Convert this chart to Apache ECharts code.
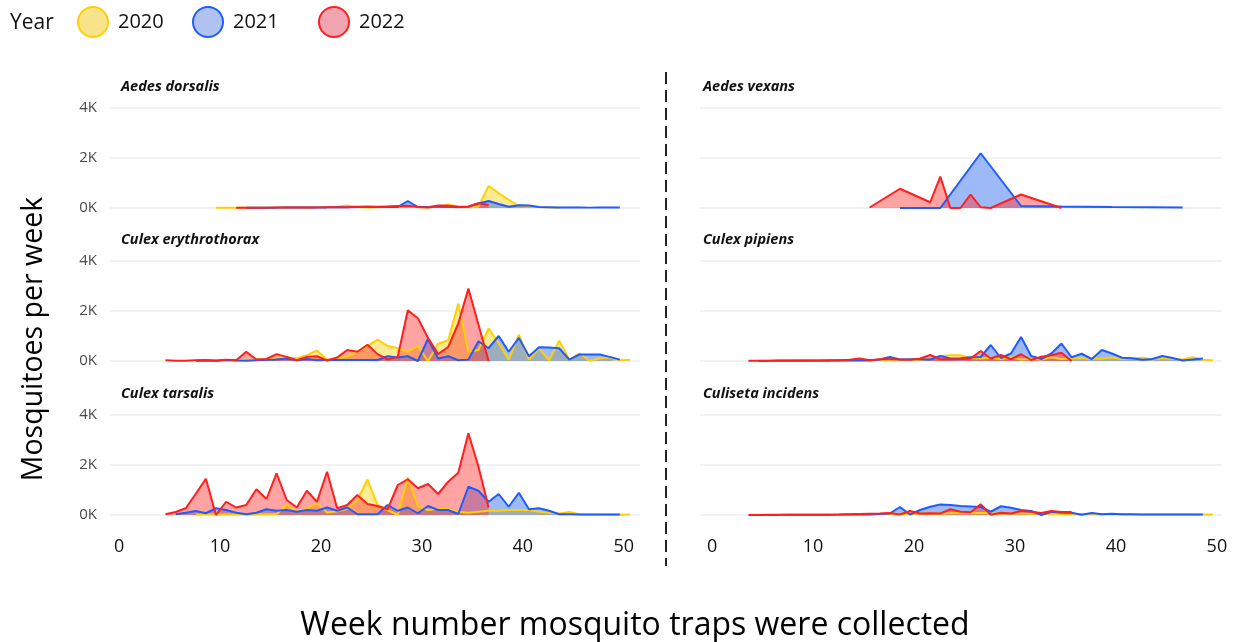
<!DOCTYPE html>
<html>
<head>
<meta charset="utf-8">
<script src="https://cdn.jsdelivr.net/npm/echarts@6/dist/echarts.min.js"></script>
<style>
  html, body { margin: 0; padding: 0; background: #fff; }
  #chart { width: 1242px; height: 642px; }
</style>
</head>
<body>
<div id="chart"></div>
<script>
// Weekly mosquito counts per species and year.
// Each array starts at the week given by its matching *Start constant;
// null marks a week without a collection (the line is joined across it).

const years = ['2020', '2021', '2022'];
const species = ['Aedes dorsalis', 'Culex erythrothorax', 'Culex tarsalis',
                 'Aedes vexans', 'Culex pipiens', 'Culiseta incidens'];
const weekTicks = [0, 10, 20, 30, 40, 50];
const countTicks = [0, 2000, 4000];

// Aedes dorsalis
const dorsalis2020Start = 10;
const dorsalis2020 = [10,10,10,10,15,15,15,20,20,20,25,30,50,100,40,20,30,50,60,60,30,20,50,140,40,30,50,880,600,330,80,70,40,20,10];
const dorsalis2021Start = 13;
const dorsalis2021 = [10,10,15,15,20,20,20,25,25,30,30,40,40,50,40,40,280,40,40,60,50,30,50,180,280,160,50,110,100,40,30,20,20,20,15,20,20,20];
const dorsalis2022Start = 12;
const dorsalis2022 = [10,10,15,15,20,20,20,25,25,30,30,30,50,60,40,60,80,90,40,20,100,90,50,60,190,120];

// Culex erythrothorax
const erythro2020Start = 8;
const erythro2020 = [20,30,20,40,30,50,60,80,140,150,100,235,415,55,100,190,370,600,855,600,510,370,600,0,690,830,2300,370,440,1300,720,55,1060,55,510,30,815,55,300,10,100,150,30,50];
const erythro2021Start = 8;
const erythro2021 = [10,20,10,40,20,10,30,50,60,100,30,80,30,40,40,40,40,40,40,190,140,190,0,880,100,190,30,55,790,510,1000,370,925,190,550,540,510,55,260,260,260,165,55];
const erythro2022Start = 5;
const erythro2022 = [30,10,10,30,40,10,55,30,370,60,80,275,165,30,165,190,20,140,440,370,650,275,60,165,2030,1710,925,275,560,1500,2900,1450,0];

// Culex tarsalis
const tarsalis2020Start = 8;
const tarsalis2020 = [20,20,20,20,20,20,20,30,30,400,150,250,480,100,150,250,600,1420,400,200,0,1500,360,200,250,230,130,90,130,170,170,200,200,200,130,90,60,120,30,20,10,10,10,20];
const tarsalis2021Start = 6;
const tarsalis2021 = [30,90,160,70,270,200,90,30,90,230,170,200,130,200,170,300,170,300,30,30,30,400,170,300,70,360,200,200,40,1130,970,530,840,330,890,230,270,170,30,30,20,20,20,20,20];
const tarsalis2022Start = 5;
const tarsalis2022 = [30,120,270,850,1450,0,530,300,400,1030,640,1670,600,300,970,530,1730,270,400,800,440,360,230,1200,1430,1070,1240,840,1330,1690,3270,1930,300];

// Aedes vexans
const vexans2020Start = 1;
const vexans2020 = [];
const vexans2021Start = 19;
const vexans2021 = [0,0,0,0,0,null,null,null,2190,null,null,null,80,null,null,null,60,null,null,null,null,40,null,null,null,null,null,null,20];
const vexans2022Start = 16;
const vexans2022 = [20,null,null,770,null,null,230,1255,0,0,540,30,0,null,null,540,null,null,null,0];

// Culex pipiens
const pipiens2020Start = 5;
const pipiens2020 = [10,10,15,15,20,20,20,25,25,30,30,35,40,40,40,40,50,100,200,230,230,120,100,130,80,150,60,80,60,150,80,100,120,80,100,140,80,100,130,60,120,80,60,150,50,30];
const pipiens2021Start = 5;
const pipiens2021 = [5,5,10,10,10,15,15,15,20,20,30,20,60,160,60,70,70,60,200,100,110,150,160,640,120,300,960,200,80,300,700,150,290,80,440,300,130,110,50,80,200,120,20,60,100];
const pipiens2022Start = 4;
const pipiens2022 = [10,10,15,20,20,20,20,25,30,30,50,100,30,70,70,60,50,100,240,70,70,80,100,400,100,240,70,270,40,170,230,330,0];

// Culiseta incidens
const incidens2020Start = 13;
const incidens2020 = [20,20,30,30,40,40,50,40,60,60,50,70,80,70,80,70,60,60,60,50,60,40,40,30,30,40,30,30,20,20,20,20,20,20,20,20,20,20];
const incidens2021Start = 5;
const incidens2021 = [5,5,5,10,10,10,10,10,15,20,20,20,40,60,320,20,200,330,420,400,360,340,320,130,350,290,200,160,0,130,90,90,10,80,30,50,30,30,20,20,20,20,20,20,20];
const incidens2022Start = 4;
const incidens2022 = [5,5,10,10,10,10,10,15,15,20,30,40,50,60,80,20,160,60,70,60,230,130,110,430,10,90,60,160,130,80,160,120,120];

// Panel order: left column top to bottom, then right column top to bottom.
const panelSeries = [
  [[dorsalis2020Start, dorsalis2020], [dorsalis2021Start, dorsalis2021], [dorsalis2022Start, dorsalis2022]],
  [[erythro2020Start, erythro2020], [erythro2021Start, erythro2021], [erythro2022Start, erythro2022]],
  [[tarsalis2020Start, tarsalis2020], [tarsalis2021Start, tarsalis2021], [tarsalis2022Start, tarsalis2022]],
  [[vexans2020Start, vexans2020], [vexans2021Start, vexans2021], [vexans2022Start, vexans2022]],
  [[pipiens2020Start, pipiens2020], [pipiens2021Start, pipiens2021], [pipiens2022Start, pipiens2022]],
  [[incidens2020Start, incidens2020], [incidens2021Start, incidens2021], [incidens2022Start, incidens2022]]
];

// Styling
const lineColors = ['#FFD000', '#1F5BFF', '#FF1F1F'];
const areaColors = ['rgba(250,215,40,0.5)', 'rgba(40,100,240,0.45)', 'rgba(255,50,50,0.45)'];
const legendFill = ['#F8E38A', '#B0C2F0', '#F0A3B0'];
const legendLeft = [72, 187, 313];
const rowTops = [108, 261, 415];
const rowHeight = 100;
const columns = [
  { left: 110, width: 530, min: -0.5, max: 52, titleLeft: 121 },
  { left: 700, width: 522, min: -0.8, max: 50.9, titleLeft: 703 }
];
const uiFont = '"Open Sans", "Noto Sans", sans-serif';

const grids = [], xAxes = [], yAxes = [], series = [], graphics = [];

for (let p = 0; p < 6; p++) {
  const col = columns[p < 3 ? 0 : 1];
  const row = p % 3;
  grids.push({ left: col.left, top: rowTops[row], width: col.width, height: rowHeight });
  xAxes.push({
    type: 'value', gridIndex: p, min: col.min, max: col.max,
    axisLine: { show: false }, axisTick: { show: false }, splitLine: { show: false },
    axisLabel: {
      show: row === 2, customValues: weekTicks, margin: 23,
      fontSize: 18, color: '#111', fontFamily: uiFont, padding: [0, 0, 0, 8]
    }
  });
  yAxes.push({
    type: 'value', gridIndex: p, min: countTicks[0], max: countTicks[countTicks.length - 1], interval: 2000,
    axisLine: { show: false }, axisTick: { show: false },
    splitLine: { lineStyle: { color: '#EEEEEE', width: 1.5 } },
    axisLabel: {
      show: p < 3, margin: 13, fontSize: 15, color: '#4a4a4a', fontFamily: uiFont,
      formatter: v => (v / 1000) + 'K'
    }
  });
  panelSeries[p].forEach(([start, values], y) => {
    series.push({
      name: years[y], type: 'line', xAxisIndex: p, yAxisIndex: p,
      data: values.map((v, i) => [start + i, v]),
      symbol: 'none', connectNulls: true, silent: true,
      lineStyle: { color: lineColors[y], width: 2 },
      itemStyle: { color: lineColors[y] },
      areaStyle: { color: areaColors[y], opacity: 1 }
    });
  });
  graphics.push({
    type: 'text', left: col.titleLeft, top: rowTops[row] - 29,
    style: { text: species[p], font: 'italic bold 14.5px ' + uiFont, fill: '#111' }
  });
}

// Column divider
graphics.push({
  type: 'line', shape: { x1: 666, y1: 72, x2: 666, y2: 566 },
  style: { stroke: '#222', lineWidth: 2, lineDash: [12, 6] }
});
// Legend caption
graphics.push({
  type: 'text', left: 10, top: 13,
  style: { text: 'Year', font: '21px ' + uiFont, fill: '#111' }
});
// Axis titles
graphics.push({
  type: 'text', x: 34, y: 339, rotation: Math.PI / 2,
  style: { text: 'Mosquitoes per week', font: '28.5px ' + uiFont, fill: '#000',
           textAlign: 'center', textVerticalAlign: 'middle' }
});
graphics.push({
  type: 'text', x: 635, y: 626,
  style: { text: 'Week number mosquito traps were collected', font: '32px ' + uiFont, fill: '#000',
           textAlign: 'center', textVerticalAlign: 'middle' }
});

const legends = years.map((name, y) => ({
  data: [name], left: legendLeft[y], top: 1, icon: 'circle',
  itemWidth: 30, itemHeight: 30, selectedMode: false,
  itemStyle: { color: legendFill[y], borderColor: lineColors[y], borderWidth: 2 },
  textStyle: { fontSize: 20, color: '#111', fontFamily: uiFont, padding: [0, 0, 0, 5] }
}));

const chart = echarts.init(document.getElementById('chart'), null, { renderer: 'canvas' });
chart.setOption({
  animation: false,
  backgroundColor: '#fff',
  legend: legends,
  grid: grids,
  xAxis: xAxes,
  yAxis: yAxes,
  series: series,
  graphic: graphics
});
</script>
</body>
</html>
